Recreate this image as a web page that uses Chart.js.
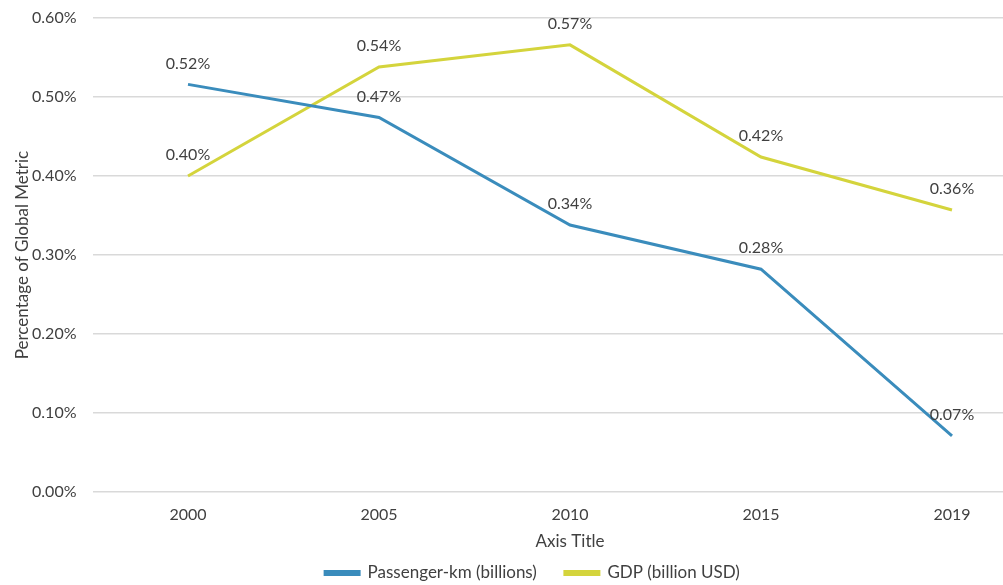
<!DOCTYPE html>
<html>
<head>
<meta charset="utf-8">
<script src="https://cdn.jsdelivr.net/npm/chart.js@4"></script>
<style>
    html, body { margin: 0; padding: 0; background: #fff; overflow: hidden; }
    #wrap { position: relative; width: 1065px; height: 585px; }
</style>
</head>
<body>
<div id="wrap"><canvas id="shareChart"></canvas></div>
<script>
const years = ['2000', '2005', '2010', '2015', '2019'];
const passengerKm = [0.516, 0.474, 0.338, 0.282, 0.071];
const gdp = [0.400, 0.538, 0.566, 0.424, 0.357];
const yTicks = [0, 0.1, 0.2, 0.3, 0.4, 0.5, 0.6];

const textCol = '#404040';
const fontFam = 'Lato, "Open Sans", sans-serif';

// value labels above every point
const pointLabels = {
    id: 'pointLabels',
    afterDatasetsDraw(chart) {
        const ctx = chart.ctx;
        ctx.save();
        ctx.font = '16px ' + fontFam;
        ctx.fillStyle = textCol;
        ctx.textAlign = 'center';
        ctx.textBaseline = 'middle';
        chart.data.datasets.forEach((ds, i) => {
            chart.getDatasetMeta(i).data.forEach((pt, j) => {
                ctx.fillText(ds.data[j].toFixed(2) + '%', pt.x, pt.y - 21);
            });
        });
        ctx.restore();
    }
};

const ctx = document.getElementById('shareChart').getContext('2d');
new Chart(ctx, {
    type: 'line',
    data: {
        labels: years,
        datasets: [{
            label: 'Passenger-km (billions)',
            data: passengerKm,
            borderColor: '#3a8cbc',
            backgroundColor: '#3a8cbc',
            borderWidth: 3,
            pointRadius: 0,
            tension: 0
        }, {
            label: 'GDP (billion USD)',
            data: gdp,
            borderColor: '#d4d43c',
            backgroundColor: '#d4d43c',
            borderWidth: 3,
            pointRadius: 0,
            tension: 0
        }]
    },
    options: {
        responsive: true,
        maintainAspectRatio: false,
        animation: false,
        layout: { padding: { top: 18, right: 17.5, left: 17.5, bottom: 0 } },
        plugins: {
            legend: {
                position: 'bottom',
                maxHeight: 48.5,
                labels: {
                    color: textCol,
                    font: { family: fontFam, size: 17 },
                    boxWidth: 34,
                    boxHeight: 3,
                    padding: 28
                }
            },
            tooltip: { enabled: false }
        },
        scales: {
            x: {
                offset: true,
                grid: { display: false, drawTicks: false },
                border: { display: false },
                ticks: { color: textCol, font: { family: fontFam, size: 16 }, padding: 13 },
                title: {
                    display: true,
                    text: 'Axis Title',
                    color: textCol,
                    font: { family: fontFam, size: 17 },
                    padding: { top: 0, bottom: -15 }
                },
                afterFit(scale) { scale.height = 44.5; }
            },
            y: {
                min: 0,
                max: 0.6,
                grid: { color: '#d9d9d9', lineWidth: 1.5, drawTicks: false },
                border: { display: false },
                afterBuildTicks(scale) { scale.ticks = yTicks.map(v => ({ value: v })); },
                ticks: {
                    color: textCol,
                    font: { family: fontFam, size: 16 },
                    padding: 16,
                    callback: v => v.toFixed(2) + '%'
                },
                title: {
                    display: true,
                    text: 'Percentage of Global Metric',
                    color: textCol,
                    font: { family: fontFam, size: 17 },
                    padding: { top: -5.5, bottom: 0 }
                },
                afterFit(scale) {
                    scale.width = 75;
                    scale.paddingTop = 0;
                    scale.paddingBottom = 0;
                }
            }
        }
    },
    plugins: [pointLabels]
});
</script>
</body>
</html>
